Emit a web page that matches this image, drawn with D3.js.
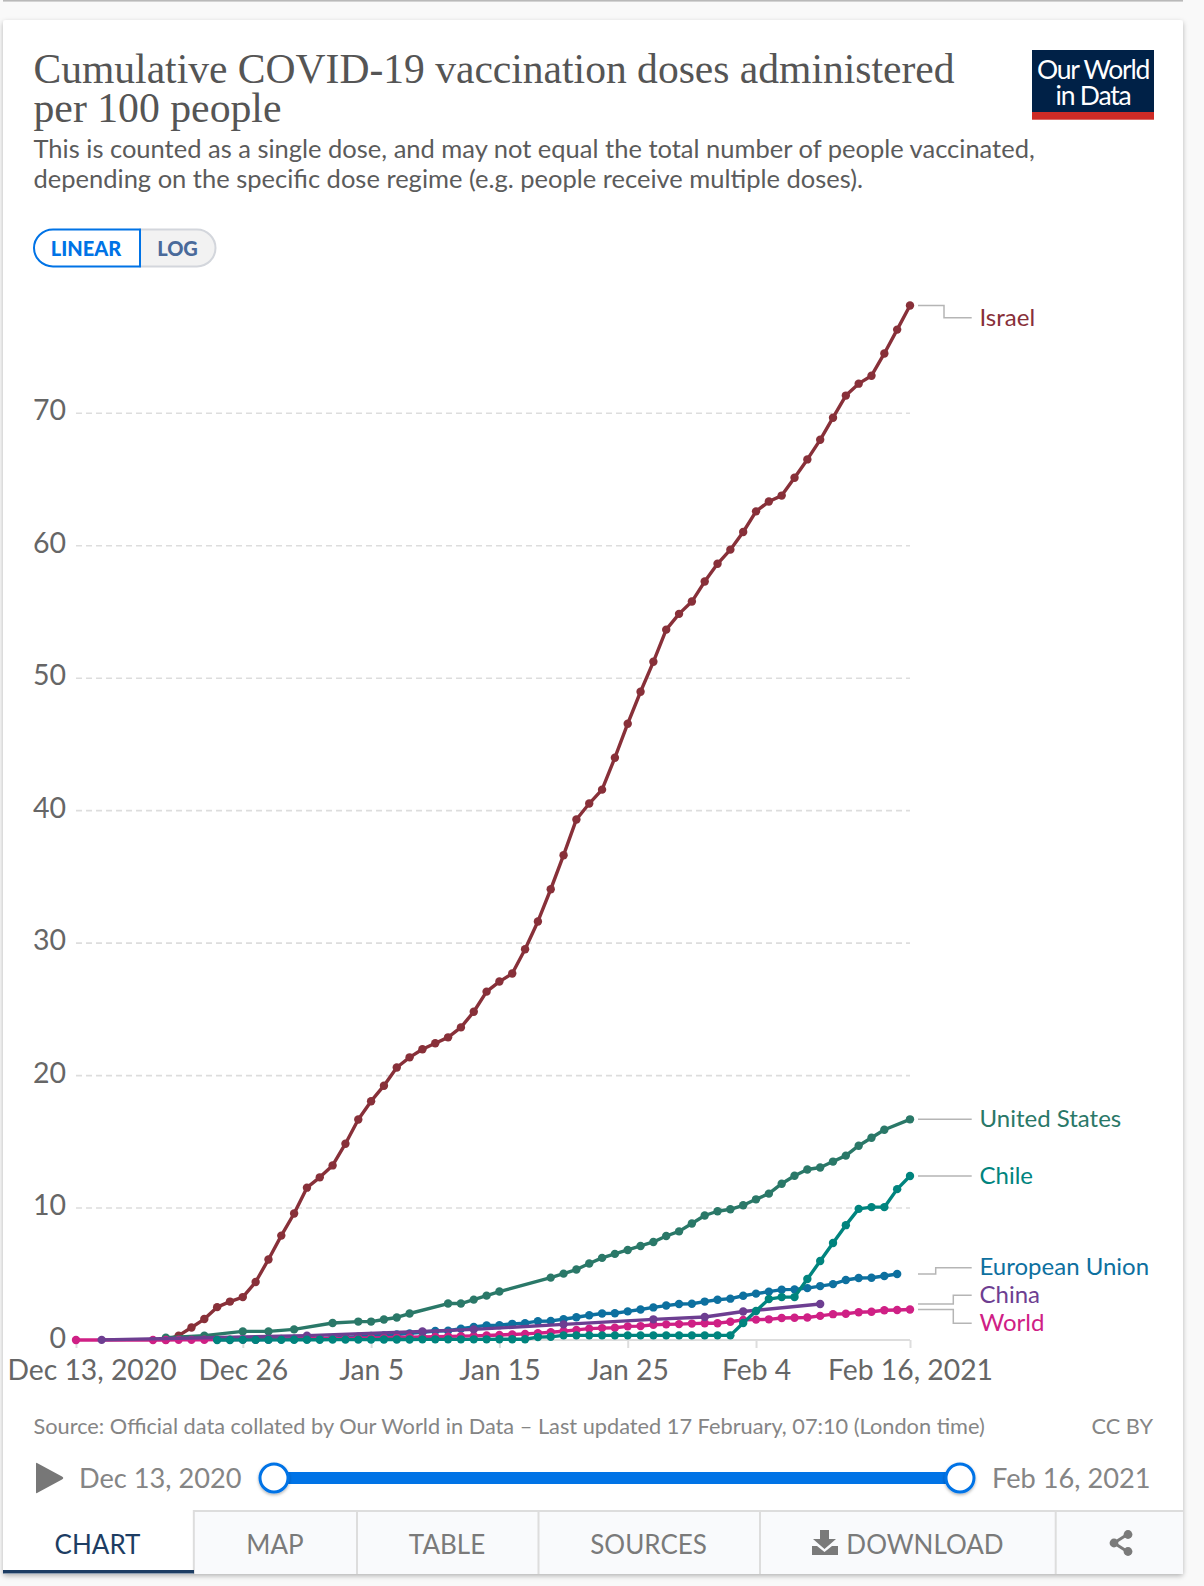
<!DOCTYPE html>
<html>
<head>
<meta charset="utf-8">
<script src="https://cdn.jsdelivr.net/npm/d3@7"></script>
<style>
html,body{margin:0;padding:0;background:#f9f9f9;overflow:hidden}
svg{display:block;position:absolute;left:0;top:0}
text{font-family:Lato,"Noto Sans",sans-serif}
</style>
</head>
<body>
<div id="chart"></div>
<script>
// ---- data (day = days since startDate) ----
const startDate = Date.UTC(2020, 11, 13);
const titleLines = ["Cumulative COVID-19 vaccination doses administered", "per 100 people"];
const subtitleLines = ["This is counted as a single dose, and may not equal the total number of people vaccinated,",
  "depending on the specific dose regime (e.g. people receive multiple doses)."];
const sourceText = "Source: Official data collated by Our World in Data – Last updated 17 February, 07:10 (London time)";
const yTicks = [0, 10, 20, 30, 40, 50, 60, 70];
const xTickDays = [0, 13, 23, 33, 43, 53, 65];
const xTickLabels = ["Dec 13, 2020", "Dec 26", "Jan 5", "Jan 15", "Jan 25", "Feb 4", "Feb 16, 2021"];
const tabLabels = ["CHART", "MAP", "TABLE", "SOURCES", "DOWNLOAD"];

const israelDays = d3.range(7, 66);
const israelValues = [0.01, 0.33, 0.94, 1.58, 2.48, 2.9, 3.24, 4.38, 6.08, 7.88, 9.55, 11.5, 12.28, 13.18, 14.82, 16.65,
  18.03, 19.2, 20.57, 21.34, 21.95, 22.4, 22.85, 23.6, 24.78, 26.3, 27.06, 27.67, 29.5, 31.6, 34.03, 36.6, 39.3, 40.5,
  41.55, 43.96, 46.53, 48.94, 51.2, 53.63, 54.82, 55.75, 57.26, 58.6, 59.67, 61.0, 62.56, 63.3, 63.75, 65.1, 66.48,
  67.96, 69.63, 71.3, 72.2, 72.8, 74.48, 76.28, 78.1];

const usDays = [7, 10, 13, 15, 17, 20, 22, 23, 24, 25, 26, 29, 30, 31, 32, 33, 37, 38, 39, 40, 41, 42, 43, 44, 45, 46, 47, 48,
  49, 50, 51, 52, 53, 54, 55, 56, 57, 58, 59, 60, 61, 62, 63, 65];
const usValues = [0.17, 0.33, 0.65, 0.65, 0.8, 1.28, 1.39, 1.39, 1.55, 1.7, 2.0, 2.75, 2.75, 3.05, 3.35, 3.66, 4.71, 5.01,
  5.32, 5.78, 6.2, 6.5, 6.8, 7.1, 7.4, 7.85, 8.2, 8.8, 9.4, 9.72, 9.87, 10.17, 10.62, 11.05, 11.8, 12.4, 12.87, 13.02,
  13.47, 13.92, 14.67, 15.27, 15.87, 16.66];

const chileDays = d3.range(11, 66);
const chileValues = [0, 0, 0.01, 0.01, 0.01, 0.01, 0.02, 0.02, 0.02, 0.03, 0.03, 0.03, 0.03, 0.04, 0.04, 0.04, 0.05, 0.05,
  0.05, 0.05, 0.05, 0.05, 0.06, 0.06, 0.06, 0.22, 0.24, 0.35, 0.35, 0.35, 0.35, 0.35, 0.35, 0.35, 0.35, 0.35, 0.35, 0.35,
  0.35, 0.35, 0.35, 1.28, 2.19, 3.09, 3.24, 3.24, 4.6, 5.96, 7.32, 8.67, 9.9, 10.03, 10.03, 11.39, 12.38];

const euDays = d3.range(14, 65);
const euValues = [0.02, 0.04, 0.06, 0.08, 0.1, 0.12, 0.15, 0.2, 0.25, 0.3, 0.35, 0.42, 0.5, 0.58, 0.68, 0.7, 0.85, 0.98,
  1.1, 1.12, 1.22, 1.27, 1.42, 1.44, 1.57, 1.72, 1.87, 2.0, 2.02, 2.16, 2.3, 2.46, 2.6, 2.72, 2.74, 2.9, 3.04, 3.12, 3.34,
  3.5, 3.65, 3.8, 3.82, 3.92, 4.07, 4.22, 4.53, 4.68, 4.7, 4.83, 4.98];

const chinaDays = [2, 18, 27, 31, 38, 45, 49, 52, 58];
const chinaValues = [0.01, 0.33, 0.65, 0.8, 1.18, 1.56, 1.74, 2.15, 2.72];

const worldDays = [0].concat(d3.range(6, 66));
const worldValues = [0, 0, 0, 0.01, 0.01, 0.02, 0.03, 0.03, 0.04, 0.05, 0.06, 0.07, 0.08, 0.09, 0.1, 0.11, 0.12, 0.13, 0.15,
  0.17, 0.19, 0.21, 0.23, 0.25, 0.27, 0.29, 0.31, 0.34, 0.38, 0.42, 0.46, 0.52, 0.58, 0.66, 0.76, 0.86, 0.9, 0.92, 1.03,
  1.05, 1.15, 1.18, 1.2, 1.24, 1.26, 1.27, 1.38, 1.52, 1.54, 1.56, 1.66, 1.68, 1.7, 1.82, 1.95, 1.98, 2.1, 2.13, 2.25, 2.27, 2.3];

const seriesNames = ["Israel", "United States", "European Union", "World", "China", "Chile"];
const seriesColors = ["#883039", "#2a7868", "#0d709f", "#cf2085", "#6d3e91", "#00847e"];
const seriesDays = [israelDays, usDays, euDays, worldDays, chinaDays, chileDays];
const seriesValues = [israelValues, usValues, euValues, worldValues, chinaValues, chileValues];

// ---- layout ----
const W = 1204, H = 1586;
const svg = d3.select("#chart").append("svg").attr("width", W).attr("height", H).attr("viewBox", [0, 0, W, H]);
const defs = svg.append("defs");
const f = defs.append("filter").attr("id", "sh").attr("x", "-5%").attr("y", "-5%").attr("width", "110%").attr("height", "110%");
f.append("feDropShadow").attr("dx", 0).attr("dy", 2).attr("stdDeviation", 2.5).attr("flood-color", "#000").attr("flood-opacity", 0.28);
const hf = defs.append("filter").attr("id", "hsh").attr("x", "-30%").attr("y", "-30%").attr("width", "160%").attr("height", "160%");
hf.append("feDropShadow").attr("dx", 0).attr("dy", 1.5).attr("stdDeviation", 1.5).attr("flood-color", "#000").attr("flood-opacity", 0.3);

// top strip of the previous card, then the card
svg.append("rect").attr("x", 3).attr("y", 0).attr("width", 1180).attr("height", 1.6).attr("fill", "#b9b9b9");
svg.append("rect").attr("x", 3).attr("y", 20).attr("width", 1180).attr("height", 1554).attr("rx", 3).attr("fill", "#fff").attr("filter", "url(#sh)");

// title
const titleG = svg.append("g").attr("fill", "#555");
titleG.selectAll("text").data(titleLines).join("text")
  .attr("x", 33.5).attr("y", (d, i) => [83, 121.5][i])
  .attr("textLength", (d, i) => [921, 248][i]).attr("lengthAdjust", "spacingAndGlyphs")
  .style("font-family", '"Liberation Serif",serif').style("font-size", "43px").text(d => d);
svg.append("g").attr("fill", "#5b5b5b").selectAll("text").data(subtitleLines).join("text")
  .attr("x", 33.5).attr("y", (d, i) => 158 + i * 29.7).style("font-size", "25.5px").text(d => d);

// logo
const logo = svg.append("g");
logo.append("rect").attr("x", 1032).attr("y", 50).attr("width", 122).attr("height", 63).attr("fill", "#002147");
logo.append("rect").attr("x", 1032).attr("y", 112).attr("width", 122).attr("height", 7.7).attr("fill", "#ce2b26");
logo.selectAll("text").data(["Our World", "in Data"]).join("text")
  .attr("x", 1093).attr("y", (d, i) => [78.5, 105][i]).attr("text-anchor", "middle").attr("fill", "#fff")
  .style("font-size", "26.5px").style("letter-spacing", "-1.2px").text(d => d);

// linear / log toggle
svg.append("path").attr("d", "M140,229.5H197a18.5,18.5 0 0 1 0,37H140Z").attr("fill", "#f2f2f2").attr("stroke", "#d3d6dc").attr("stroke-width", 2);
svg.append("path").attr("d", "M140,229.5H53a19,18.5 0 0 0 0,37H140Z").attr("fill", "#fff").attr("stroke", "#0073e6").attr("stroke-width", 2);
svg.append("text").attr("x", 86).attr("y", 255.5).attr("text-anchor", "middle").attr("fill", "#0073e6")
  .style("font-size", "20px").style("font-weight", 900).text("LINEAR");
svg.append("text").attr("x", 177.5).attr("y", 255.5).attr("text-anchor", "middle").attr("fill", "#4a6a9a")
  .style("font-size", "20px").style("font-weight", 900).text("LOG");

// scales
const dayDate = d => new Date(startDate + d * 864e5);
const x = d3.scaleUtc().domain([dayDate(0), dayDate(65)]).range([76, 910]);
const y = d3.scaleLinear().domain([0, 70]).range([1340, 412.8]);

// y axis & grid
const yAxis = svg.append("g").attr("transform", "translate(76,0)")
  .call(d3.axisLeft(y).tickValues(yTicks).tickSize(0).tickPadding(10).tickFormat(d3.format("d")));
yAxis.select(".domain").remove();
yAxis.selectAll("text").attr("fill", "#666").attr("dy", "0.25em").style("font-size", "28.5px").style("font-family", "Lato");
yAxis.selectAll(".tick").filter(d => d > 0).append("line")
  .attr("x1", 0).attr("x2", 834).attr("stroke", "#ddd").attr("stroke-width", 1.6).attr("stroke-dasharray", "6,4");

// x axis
const xAxis = svg.append("g").attr("transform", "translate(0,1340)")
  .call(d3.axisBottom(x).tickValues(xTickDays.map(dayDate)).tickSize(8).tickPadding(10)
    .tickFormat((d, i) => xTickLabels[i]));
xAxis.select(".domain").attr("stroke", "#ddd").attr("stroke-width", 2).attr("d", `M76,0H910`);
xAxis.selectAll("line").attr("stroke", "#ddd").attr("stroke-width", 2);
xAxis.selectAll("text").attr("fill", "#666").style("font-size", "28.3px").style("font-family", "Lato").attr("y", 39.5).attr("dy", 0);
xAxis.selectAll("text").filter((d, i) => i === 0).attr("dx", 15.5);

// series
const line = d3.line().x(p => x(dayDate(p[0]))).y(p => y(p[1]));
const sg = svg.append("g").attr("fill", "none");
seriesNames.forEach((name, i) => {
  const pts = d3.zip(seriesDays[i], seriesValues[i]);
  const g = sg.append("g").attr("data-name", name);
  g.append("path").attr("d", line(pts)).attr("stroke", seriesColors[i]).attr("stroke-width", 3.4).attr("stroke-linejoin", "round");
  g.selectAll("circle").data(pts).join("circle")
    .attr("cx", p => x(dayDate(p[0]))).attr("cy", p => y(p[1])).attr("r", 4.2).attr("fill", seriesColors[i]);
});

// end labels
const labelNames = ["Israel", "United States", "Chile", "European Union", "China", "World"];
const labelColors = ["#883039", "#2a7868", "#00847e", "#0d709f", "#6d3e91", "#cf2085"];
const labelBase = [326, 1126.7, 1184, 1275, 1302.7, 1331];
const labelLineStart = [78.1, 16.66, 12.38, 4.98, 2.72, 2.3].map(v => y(v));
const labelLineEnd = [317.7, labelLineStart[1], labelLineStart[2], 1267.7, 1295.3, 1323.3];
const labelMid = [944, 945, 945, 935.7, 953.3, 953.3];
const lg = svg.append("g");
lg.selectAll("path").data(labelNames).join("path")
  .attr("d", (d, i) => `M918,${labelLineStart[i]}H${labelMid[i]}V${labelLineEnd[i]}H971.7`)
  .attr("fill", "none").attr("stroke", "#b5b5b5").attr("stroke-width", 1.5);
lg.selectAll("text").data(labelNames).join("text")
  .attr("x", 979.5).attr("y", (d, i) => labelBase[i]).attr("fill", (d, i) => labelColors[i])
  .style("font-size", "24px").text(d => d);

// footer
svg.append("text").attr("x", 33.5).attr("y", 1434).attr("fill", "#858585").style("font-size", "21.75px").text(sourceText);
svg.append("text").attr("x", 1153).attr("y", 1434).attr("text-anchor", "end").attr("fill", "#858585").style("font-size", "21.75px").text("CC BY");

// timeline
svg.append("path").attr("d", "M37,1463L62,1476.5Q64.5,1478 62,1479.5L37,1493Q36,1494 36,1492V1464Q36,1462 37,1463Z").attr("fill", "#777");
svg.append("text").attr("x", 79).attr("y", 1487.5).attr("fill", "#858585").style("font-size", "27.2px").text("Dec 13, 2020");
svg.append("text").attr("x", 992).attr("y", 1487.5).attr("fill", "#858585").style("font-size", "27.2px").text("Feb 16, 2021");
svg.append("rect").attr("x", 274).attr("y", 1472).attr("width", 686).attr("height", 12).attr("fill", "#0073e6");
svg.selectAll(".handle").data([274, 960]).join("circle").attr("class", "handle")
  .attr("cx", d => d).attr("cy", 1478).attr("r", 14).attr("fill", "#fff").attr("stroke", "#0073e6").attr("stroke-width", 3).attr("filter", "url(#hsh)");

// tabs
const tabEdges = [3, 193.8, 357, 538.5, 760, 1055.7, 1183];
const tg = svg.append("g");
tg.selectAll("rect").data(d3.pairs(tabEdges).slice(1)).join("rect")
  .attr("x", d => d[0]).attr("y", 1511).attr("width", d => d[1] - d[0]).attr("height", 63).attr("fill", "#f9fafc");
tg.append("path").attr("d", "M193.8,1511H1183").attr("stroke", "#ddd").attr("stroke-width", 2);
tg.selectAll("line").data(tabEdges.slice(1, 6)).join("line")
  .attr("x1", d => d).attr("x2", d => d).attr("y1", 1510).attr("y2", 1574).attr("stroke", "#ddd").attr("stroke-width", 2);
tg.append("rect").attr("x", 3).attr("y", 1570).attr("width", 191).attr("height", 3.5).attr("fill", "#1d3d63");
tg.selectAll("text").data(tabLabels).join("text")
  .attr("x", (d, i) => [97.5, 275, 447, 648.6, 925][i]).attr("y", 1554).attr("text-anchor", "middle")
  .attr("fill", (d, i) => i ? "#7a7a7a" : "#1d3d63").style("font-size", "26px").text(d => d);
// download icon
tg.append("path").attr("fill", "#7a7a7a")
  .attr("d", "M820,1530H829V1539H836L824.5,1549L813,1539H820ZM812,1546H817L824.5,1552L832,1546H838V1555H812Z");
// share icon
const share = tg.append("g").attr("fill", "#7a7a7a").attr("stroke", "#7a7a7a");
share.append("path").attr("d", "M1128,1534L1114,1543L1128,1552").attr("fill", "none").attr("stroke-width", 3);
share.selectAll("circle").data([[1128, 1534.5], [1114, 1543], [1128, 1551.5]]).join("circle")
  .attr("cx", d => d[0]).attr("cy", d => d[1]).attr("r", 4.4).attr("stroke", "none");
</script>
</body>
</html>
